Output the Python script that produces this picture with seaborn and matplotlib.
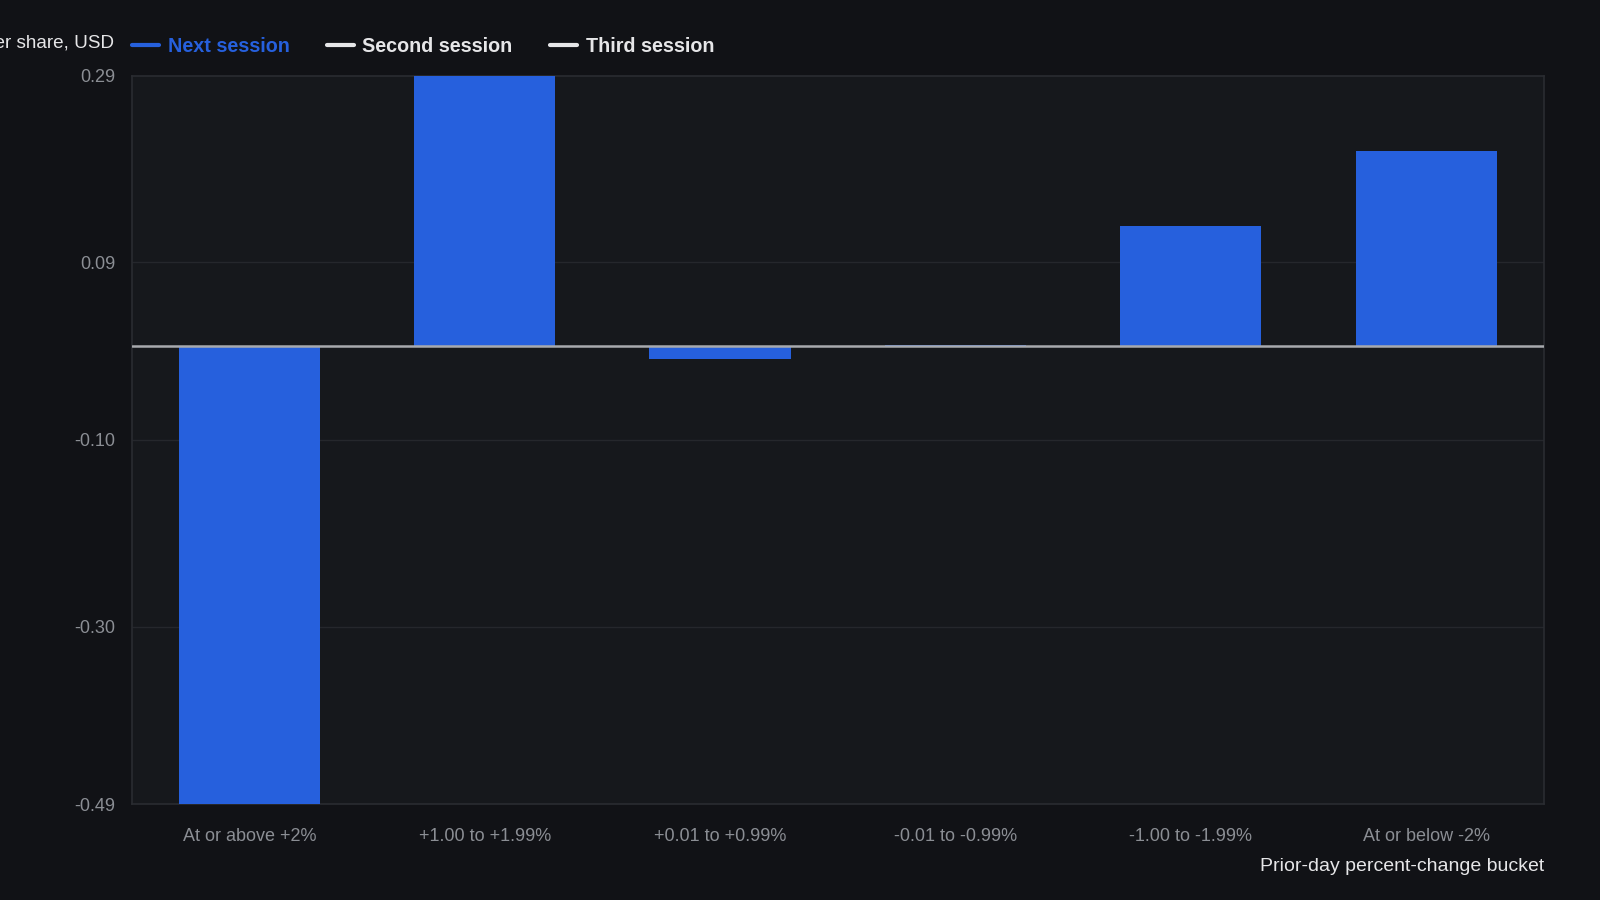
import numpy as np
import matplotlib.pyplot as plt
import seaborn as sns
import pandas as pd
from matplotlib.lines import Line2D

buckets = ["At or above +2%", "+1.00 to +1.99%", "+0.01 to +0.99%",
           "-0.01 to -0.99%", "-1.00 to -1.99%", "At or below -2%"]
next_session = [-0.49, 0.29, -0.014, 0.002, 0.129, 0.209]
series_names = ["Next session", "Second session", "Third session"]
y_ticks = [-0.49, -0.30, -0.10, 0.09, 0.29]

bg = "#111216"
panel = "#16181c"
blue = "#2660dd"
light = "#e6e6e8"

sns.set_theme(style="dark")
plt.rcParams['font.family'] = ['Liberation Sans', 'DejaVu Sans']

df = pd.DataFrame({"bucket": buckets, "value": next_session})

fig = plt.figure(figsize=(16, 9), dpi=100, facecolor=bg)
ax = fig.add_axes([0.0823, 0.1066, 0.8826, 0.8095])
ax.set_facecolor(panel)

sns.barplot(data=df, x="bucket", y="value", color=blue, width=0.6,
            saturation=1, linewidth=0, edgecolor=blue, ax=ax, zorder=3)

ax.set_ylim(-0.49, 0.29)
ax.set_xlim(-0.5, len(buckets) - 0.5)
ax.set_yticks(y_ticks)
ax.set_yticklabels([f"{t:.2f}" for t in y_ticks])
for t in y_ticks[1:-1]:
    ax.axhline(t, color="#25272c", lw=1, zorder=1)
ax.axhline(0, color="#a8aaae", lw=1.8, zorder=4)

ax.tick_params(axis="both", colors="#8b8e94", labelsize=13, length=0)
ax.tick_params(axis="y", pad=12)
ax.tick_params(axis="x", pad=17)
for s in ax.spines.values():
    s.set_color("#2a2c31")
    s.set_linewidth(1.2)
ax.grid(False)
ax.set_xlabel("")
ax.set_ylabel("")

fig.text(0.9649, 0.037, "Prior-day percent-change bucket", ha="right", va="center",
         color=light, fontsize=14)
fig.text(0.071, 0.952, "Average change per share, USD", ha="right", va="center",
         color=light, fontsize=13.6)

handles = [Line2D([], [], color=c, lw=3) for c in [blue, light, light]]
leg = fig.legend(handles, series_names, loc="center left", bbox_to_anchor=(0.0715, 0.948),
                 ncol=3, frameon=False, handlelength=1.35, handletextpad=0.45,
                 columnspacing=1.9, prop={"weight": "bold", "size": 14.2})
for txt, c in zip(leg.get_texts(), [blue, light, light]):
    txt.set_color(c)

fig.savefig("out.png", dpi=100, facecolor=bg)
